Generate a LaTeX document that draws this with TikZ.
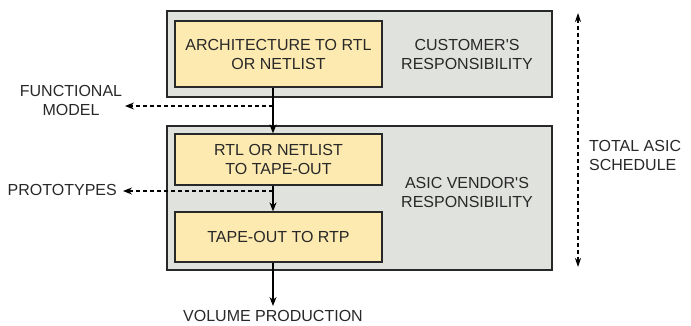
\documentclass[tikz,border=0pt]{standalone}
\usepackage{fontspec}
\setmainfont{Liberation Sans}[Ligatures=TeXOff]
\usetikzlibrary{arrows.meta}
\definecolor{panelgray}{RGB}{224,226,221}
\definecolor{stagefill}{RGB}{253,234,176}
\definecolor{ink}{RGB}{40,40,40}
\begin{document}
\begin{tikzpicture}[x=1pt,y=-1pt,
  font=\fontsize{16}{19}\selectfont,
  panel/.style={draw=ink, line width=1.3pt, fill=panelgray, minimum width=385pt, inner sep=0pt},
  stage/.style={draw=ink, line width=1.3pt, fill=stagefill, minimum width=207pt, inner sep=0pt, align=center, text=ink},
  lbl/.style={align=center, text=ink, inner sep=0pt},
  flow/.style={draw=black, line width=1.2pt, -{Stealth[length=9pt,width=7pt]}},
  tap/.style={draw=black, line width=1.2pt, dash pattern=on 4pt off 3pt, -{Stealth[length=9pt,width=7pt]}},
  span/.style={draw=black, line width=1.2pt, dash pattern=on 4pt off 3pt, {Stealth[length=9pt,width=6pt]}-{Stealth[length=9pt,width=6pt]}}]
\useasboundingbox (0,0) rectangle (691,326);

% responsibility panels
\node[panel, minimum height=86pt] (cust) at (359.5,54) {};
\node[panel, minimum height=144pt] (vend) at (359.5,198) {};

% design stages
\node[stage, minimum height=66pt] (arch) at (278.5,54) {ARCHITECTURE TO RTL\\OR NETLIST};
\node[stage, minimum height=51pt] (rtl) at (278.5,159.5) {RTL OR NETLIST\\TO TAPE-OUT};
\node[stage, minimum height=50pt] (tape) at (278.5,237) {TAPE-OUT TO RTP};

\node[lbl] (custlbl) at (467,54) {CUSTOMER'S\\RESPONSIBILITY};
\node[lbl] (vendlbl) at (467,192) {ASIC VENDOR'S\\RESPONSIBILITY};

% main flow
\coordinate (fx) at (273,0);
\draw[flow] (arch.south -| fx) -- (rtl.north -| fx);
\draw[flow] (rtl.south -| fx) -- (tape.north -| fx);
\coordinate (volend) at (273,306);
\draw[flow] (tape.south -| fx) -- (volend);
\node[lbl, anchor=north] (vol) at (273,310.5) {VOLUME PRODUCTION};

% intermediate deliverables
\coordinate (fmsrc) at (273,106);
\coordinate (fmend) at (125,106);
\draw[tap] (fmsrc) -- (fmend);
\node[lbl] (fm) at (71,100) {FUNCTIONAL\\MODEL};

\coordinate (ptsrc) at (273,191);
\coordinate (ptend) at (123,191);
\draw[tap] (ptsrc) -- (ptend);
\node[lbl, anchor=east] (pt) at (117,190) {PROTOTYPES};

% overall schedule
\coordinate (stop) at (578,13);
\coordinate (sbot) at (578,267);
\draw[span] (stop) -- (sbot);
\node[lbl, align=left, anchor=west] (sched) at (589,155) {TOTAL ASIC\\SCHEDULE};
\end{tikzpicture}
\end{document}
